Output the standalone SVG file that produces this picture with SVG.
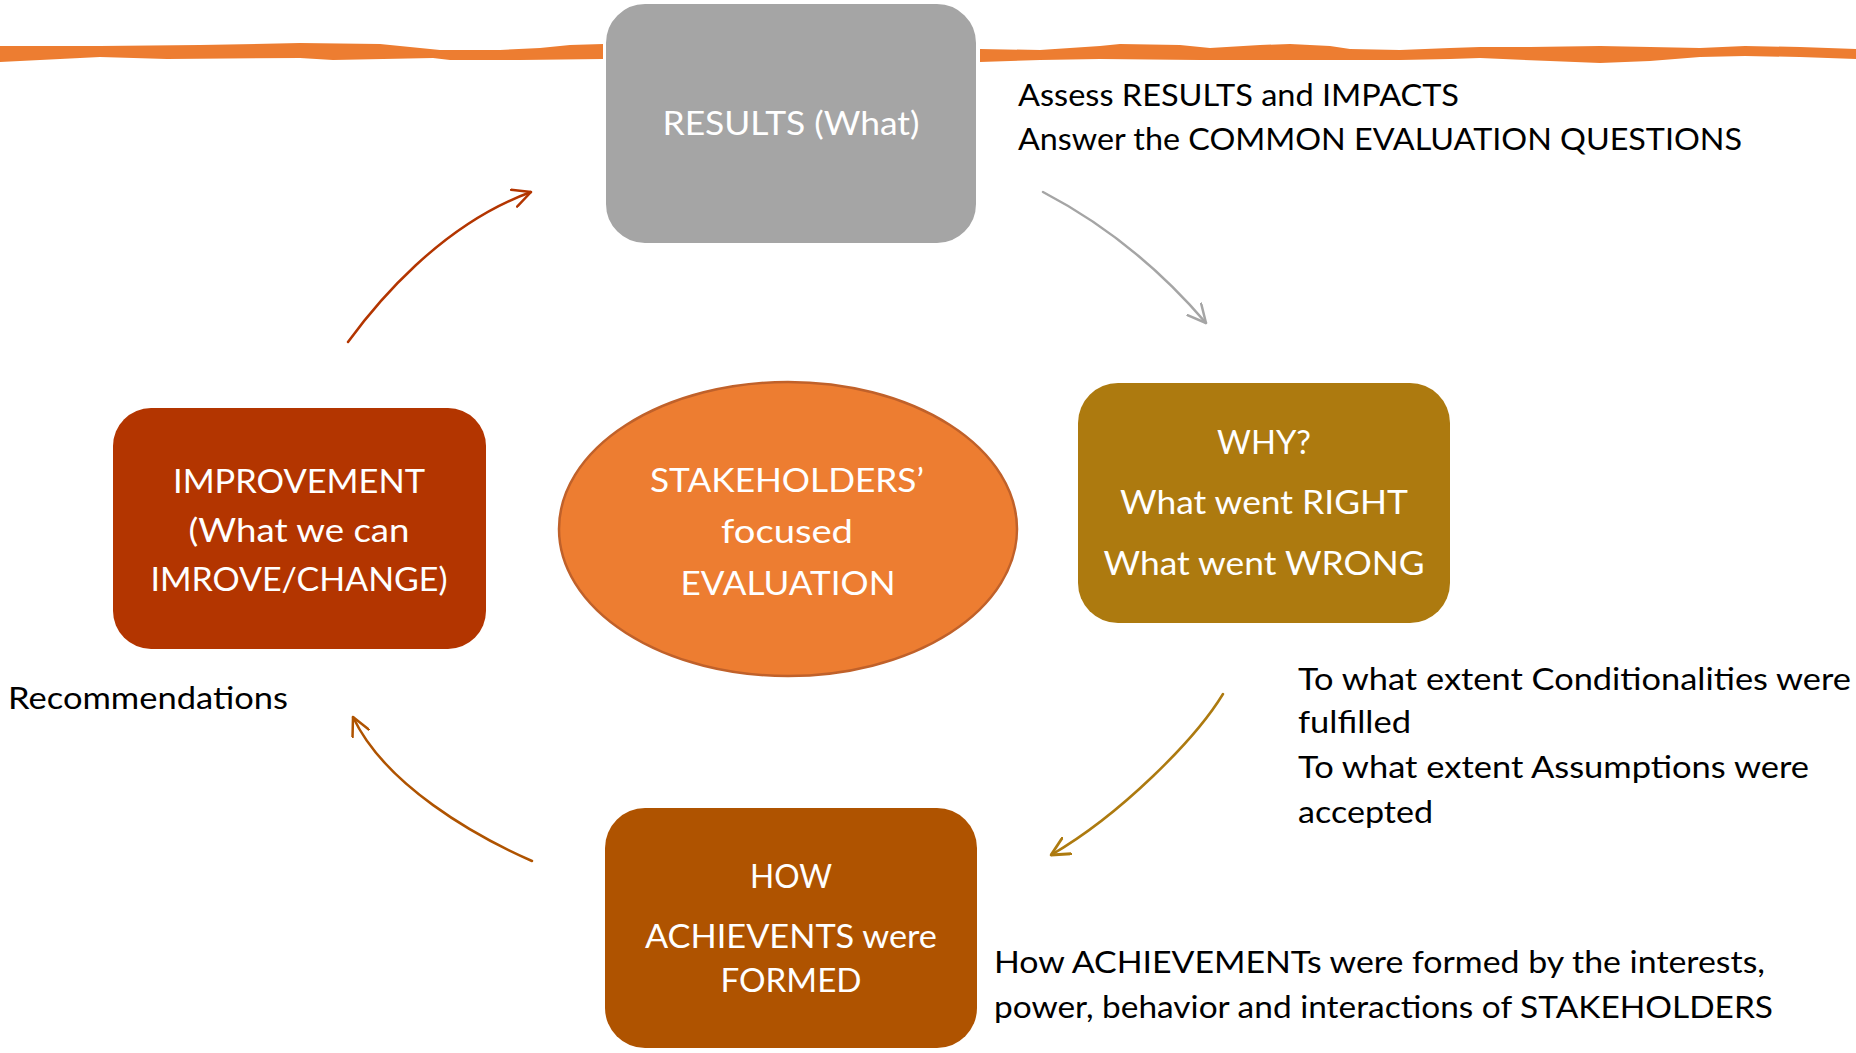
<svg xmlns="http://www.w3.org/2000/svg" width="1856" height="1053" viewBox="0 0 1856 1053">
<style>
  .box-text { font-family: Lato, "Liberation Sans", sans-serif; font-size: 33px; fill: #ffffff; text-anchor: middle; }
  .side-text { font-family: Lato, "Liberation Sans", sans-serif; font-size: 31px; fill: #000000; }
  .conn { fill: none; stroke-width: 2.5; stroke-linecap: round; }
  .band { fill: #ED7D31; }
</style>
<defs>
  <marker id="ah-red" viewBox="0 0 20 20" refX="19" refY="10" markerWidth="20" markerHeight="20" markerUnits="userSpaceOnUse" orient="auto">
    <path d="M1,1 L19,10 L1,19" fill="none" stroke="#B33500" stroke-width="2.5" stroke-linecap="round" stroke-linejoin="round"/>
  </marker>
  <marker id="ah-gray" viewBox="0 0 20 20" refX="19" refY="10" markerWidth="20" markerHeight="20" markerUnits="userSpaceOnUse" orient="auto">
    <path d="M1,1 L19,10 L1,19" fill="none" stroke="#A5A5A5" stroke-width="2.5" stroke-linecap="round" stroke-linejoin="round"/>
  </marker>
  <marker id="ah-gold" viewBox="0 0 20 20" refX="19" refY="10" markerWidth="20" markerHeight="20" markerUnits="userSpaceOnUse" orient="auto">
    <path d="M1,1 L19,10 L1,19" fill="none" stroke="#AD7A0F" stroke-width="2.8" stroke-linecap="round" stroke-linejoin="round"/>
  </marker>
  <marker id="ah-brown" viewBox="0 0 20 20" refX="19" refY="10" markerWidth="20" markerHeight="20" markerUnits="userSpaceOnUse" orient="auto">
    <path d="M1,1 L19,10 L1,19" fill="none" stroke="#AF5300" stroke-width="2.5" stroke-linecap="round" stroke-linejoin="round"/>
  </marker>
</defs>

<rect x="0" y="0" width="1856" height="1053" fill="#ffffff"/>

<g id="top-band">
  <path class="band" d="M0,46 L100,46 L200,45 L300,43 L380,44 L440,50 L500,50 L540,48 L570,45 L603,44 L603,59 L520,60 L450,60 L433,58 L333,60 L300,58 L167,59 L100,57 L0,62 Z"/>
  <path class="band" d="M980,49 L1040,50 L1100,46 L1120,44 L1180,45 L1210,48 L1260,45 L1290,44 L1330,46 L1350,49 L1400,50 L1450,48 L1480,47 L1530,47 L1600,46 L1650,47 L1700,48 L1745,46 L1800,47 L1856,49 L1856,59 L1800,57 L1745,56 L1700,57 L1650,61 L1600,63 L1550,61 L1480,58 L1450,59 L1400,60 L1300,60 L1200,60 L1100,59 L1040,60 L980,62 Z"/>
</g>

<g id="connectors">
  <path class="conn" stroke="#B33500" d="M348,342 C375,305 440,225 531,192" marker-end="url(#ah-red)"/>
  <path class="conn" stroke="#A5A5A5" d="M1043,192 Q1135,240 1206,323" marker-end="url(#ah-gray)"/>
  <path class="conn" stroke="#AD7A0F" d="M1223,694 C1195,740 1120,815 1051,855" marker-end="url(#ah-gold)"/>
  <path class="conn" stroke="#AF5300" d="M532,861 C475,836 385,785 353,717" marker-end="url(#ah-brown)"/>
</g>

<g id="node-results">
  <rect x="605" y="3" width="372" height="241" rx="40" ry="40" fill="#A5A5A5" stroke="#ffffff" stroke-width="2"/>
  <text class="box-text" x="791" y="135" textLength="257" lengthAdjust="spacingAndGlyphs">RESULTS (What)</text>
</g>

<g id="node-improvement">
  <rect x="113" y="408" width="373" height="241" rx="38" ry="38" fill="#B33500"/>
  <text class="box-text" x="299" y="493" textLength="252" lengthAdjust="spacingAndGlyphs">IMPROVEMENT</text>
  <text class="box-text" x="299" y="542" textLength="221" lengthAdjust="spacingAndGlyphs">(What we can</text>
  <text class="box-text" x="299" y="591" textLength="297" lengthAdjust="spacingAndGlyphs">IMROVE/CHANGE)</text>
</g>

<g id="node-stakeholders">
  <ellipse cx="788" cy="529" rx="229" ry="147" fill="#ED7D31" stroke="#C0612A" stroke-width="2.5"/>
  <text class="box-text" x="787" y="492" textLength="274" lengthAdjust="spacingAndGlyphs">STAKEHOLDERS’</text>
  <text class="box-text" x="787" y="543" textLength="132" lengthAdjust="spacingAndGlyphs">focused</text>
  <text class="box-text" x="788" y="595" textLength="215" lengthAdjust="spacingAndGlyphs">EVALUATION</text>
</g>

<g id="node-why">
  <rect x="1078" y="383" width="372" height="240" rx="40" ry="40" fill="#AD7A0F"/>
  <text class="box-text" x="1264" y="454" textLength="94" lengthAdjust="spacingAndGlyphs">WHY?</text>
  <text class="box-text" x="1264" y="514" textLength="288" lengthAdjust="spacingAndGlyphs">What went RIGHT</text>
  <text class="box-text" x="1264" y="575" textLength="321" lengthAdjust="spacingAndGlyphs">What went WRONG</text>
</g>

<g id="node-how">
  <rect x="605" y="808" width="372" height="240" rx="40" ry="40" fill="#AF5300"/>
  <text class="box-text" x="791" y="888" textLength="82" lengthAdjust="spacingAndGlyphs">HOW</text>
  <text class="box-text" x="791" y="948" textLength="292" lengthAdjust="spacingAndGlyphs">ACHIEVENTS were</text>
  <text class="box-text" x="791" y="992" textLength="141" lengthAdjust="spacingAndGlyphs">FORMED</text>
</g>

<g id="note-results">
  <text class="side-text" x="1018" y="106" textLength="441" lengthAdjust="spacingAndGlyphs">Assess RESULTS and IMPACTS</text>
  <text class="side-text" x="1018" y="150" textLength="724" lengthAdjust="spacingAndGlyphs">Answer the COMMON EVALUATION QUESTIONS</text>
</g>

<g id="note-why">
  <text class="side-text" x="1298" y="690" textLength="553" lengthAdjust="spacingAndGlyphs">To what extent Conditionalities were</text>
  <text class="side-text" x="1298" y="733" textLength="113" lengthAdjust="spacingAndGlyphs">fulfilled</text>
  <text class="side-text" x="1298" y="778" textLength="511" lengthAdjust="spacingAndGlyphs">To what extent Assumptions were</text>
  <text class="side-text" x="1298" y="823" textLength="135" lengthAdjust="spacingAndGlyphs">accepted</text>
</g>

<g id="note-how">
  <text class="side-text" x="994" y="973" textLength="771" lengthAdjust="spacingAndGlyphs">How ACHIEVEMENTs were formed by the interests,</text>
  <text class="side-text" x="994" y="1018" textLength="779" lengthAdjust="spacingAndGlyphs">power, behavior and interactions of STAKEHOLDERS</text>
</g>

<g id="note-improvement">
  <text class="side-text" x="8" y="709" textLength="280" lengthAdjust="spacingAndGlyphs">Recommendations</text>
</g>
</svg>
